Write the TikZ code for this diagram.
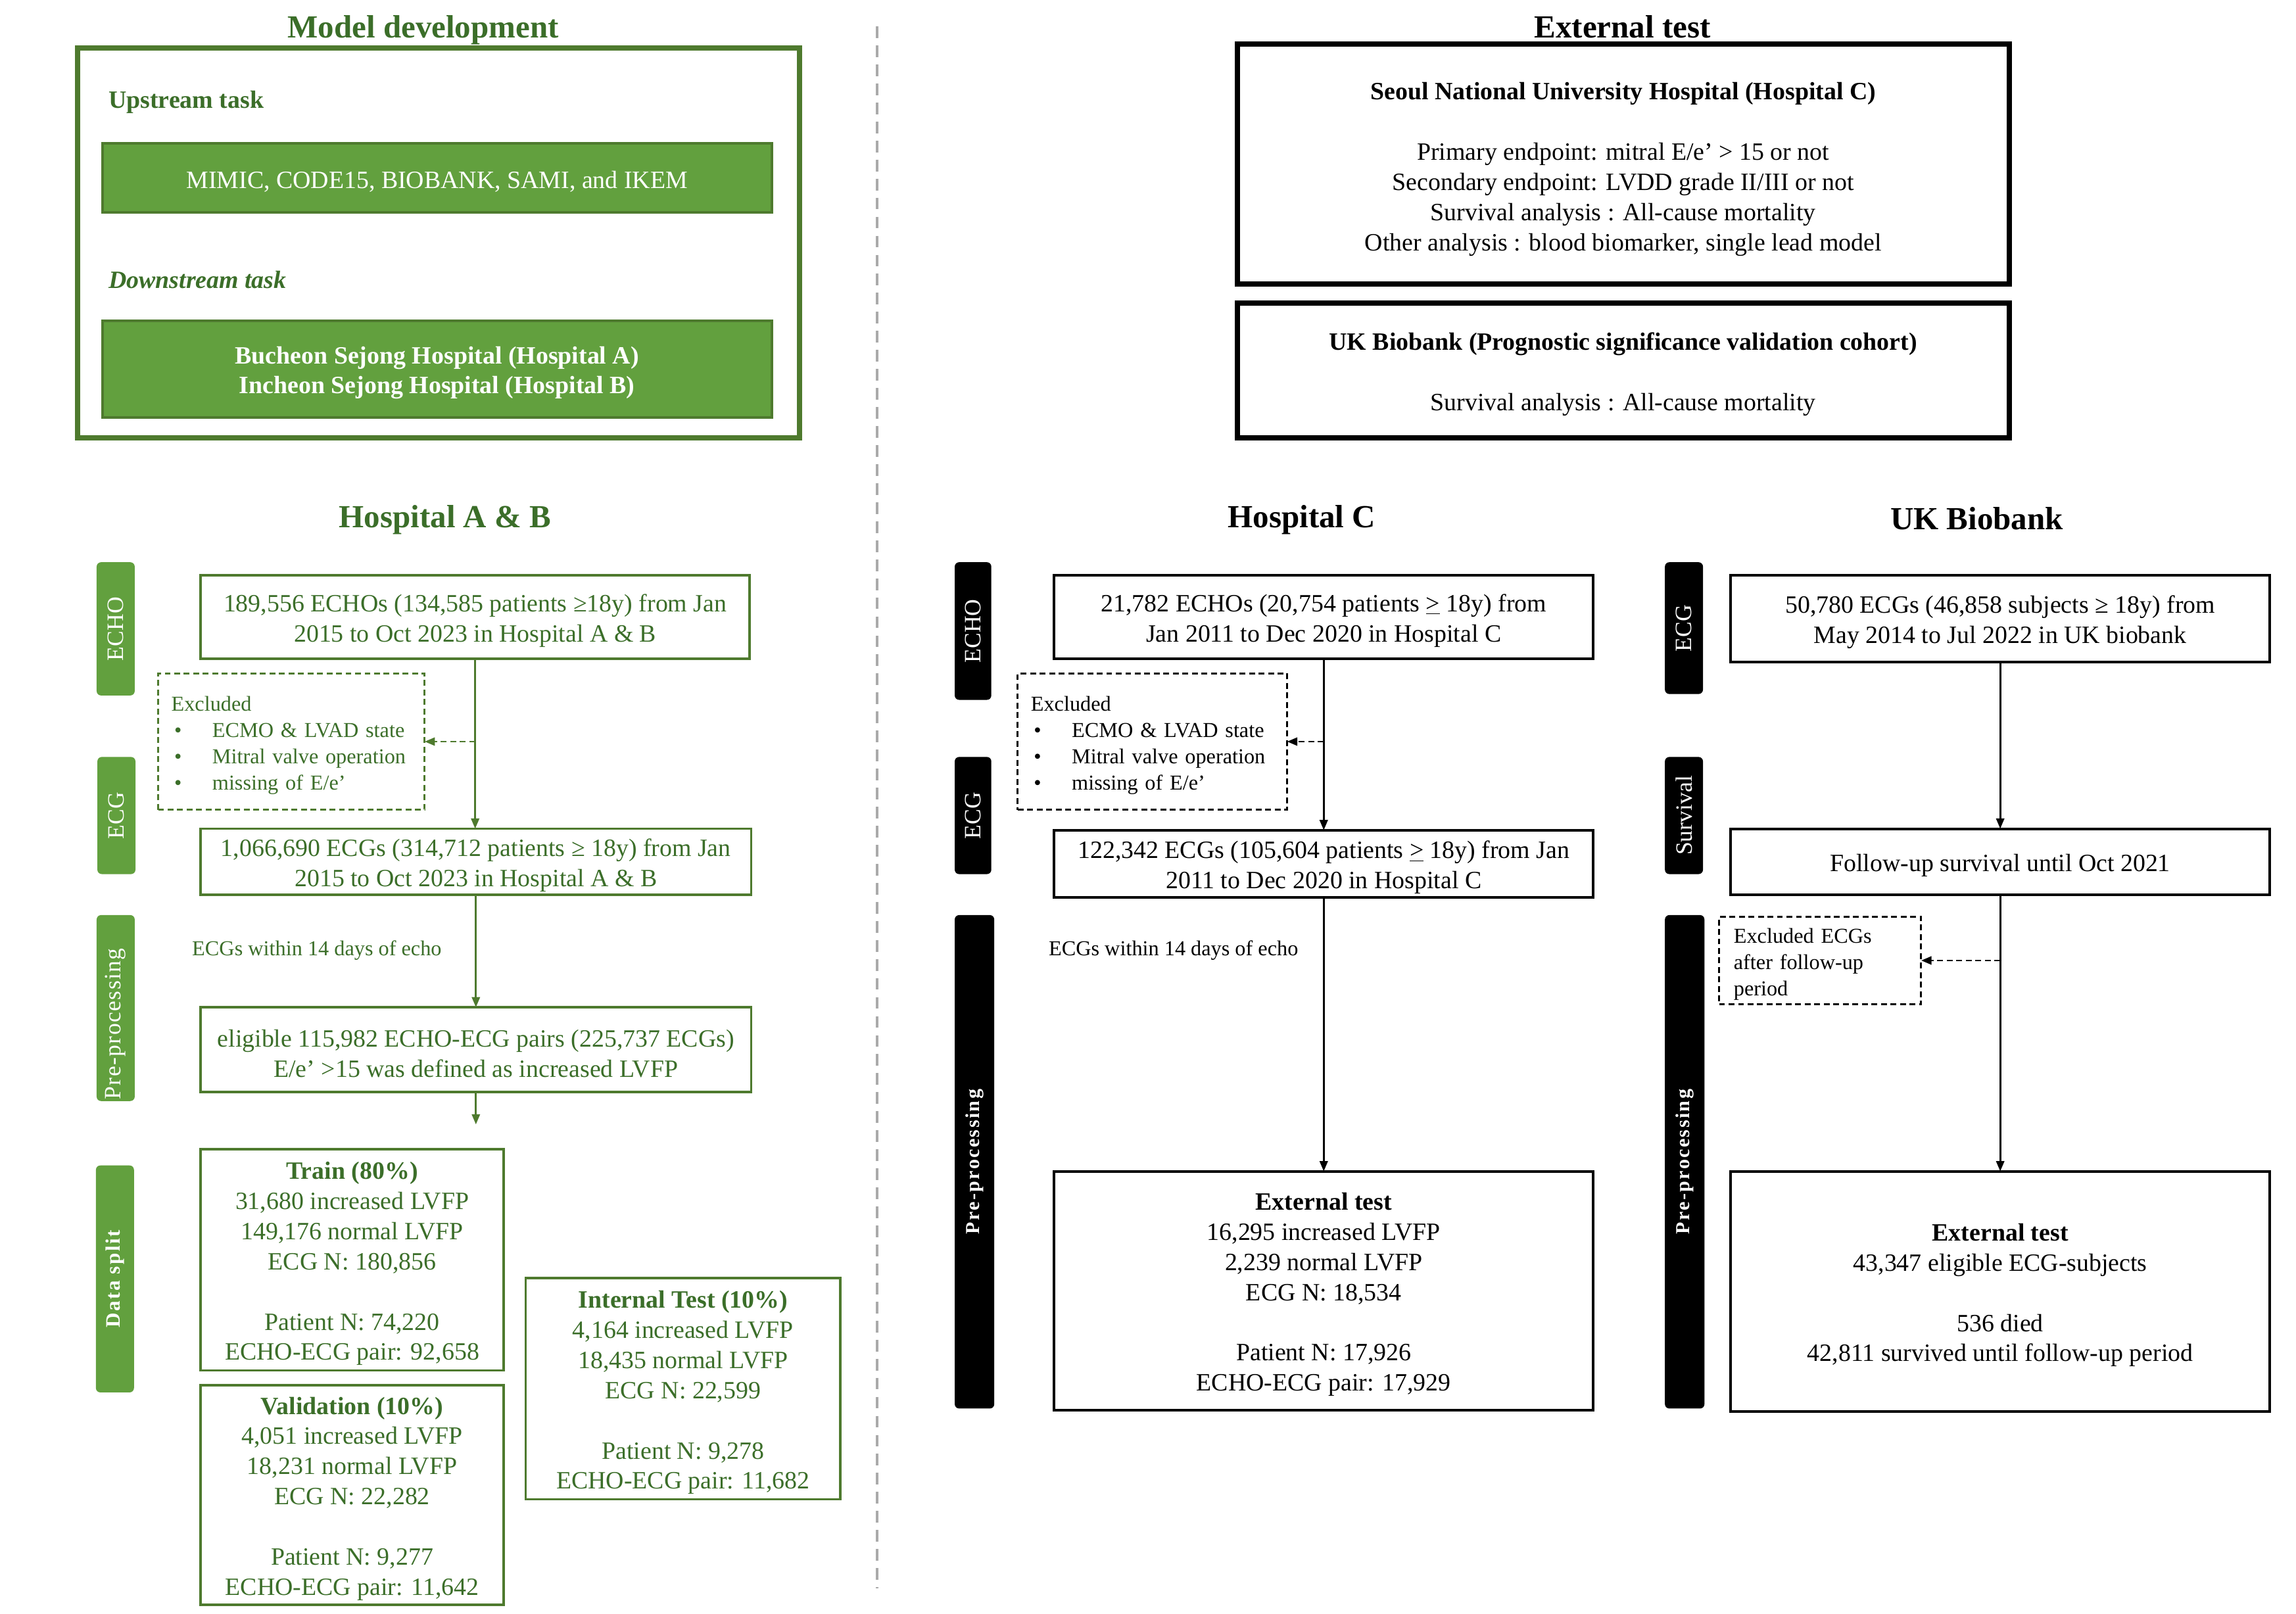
\documentclass[tikz,border=0pt]{standalone}
\usepackage{fontspec}
\setmainfont{Liberation Serif}
\newfontfamily\lsfont[LetterSpace=8]{Liberation Serif}
\newfontfamily\lsfontsm[LetterSpace=4]{Liberation Serif}
\usetikzlibrary{arrows.meta}
\definecolor{gfill}{HTML}{62A03E}
\definecolor{gline}{HTML}{4E7A2E}
\definecolor{gtext}{HTML}{3B6E29}
\definecolor{sepgray}{HTML}{AAAAAA}
\newcommand\tp{\rule{0pt}{17pt}}
\newcommand\tps{\rule{0pt}{15.5pt}}
\tikzset{
 base/.style={inner sep=0pt, outer sep=0pt, align=center, font=\fontsize{17}{20.6}\selectfont},
 gbox/.style={base, draw=gline, line width=1.7pt, text=gtext},
 gfbox/.style={base, draw=gline, fill=gfill, line width=1.7pt, text=white},
 bbox/.style={base, draw=black, line width=1.8pt, text=black},
 gouter/.style={base, draw=gline, line width=3.6pt},
 bouter/.style={base, draw=black, line width=3.6pt},
 dbox/.style={dash pattern=on 4pt off 2.5pt, line width=1.4pt, inner ysep=0pt, outer sep=0pt, align=left, font=\fontsize{14.5}{18}\selectfont},
 glab/.style={fill=gfill, rounded corners=3pt, text=white, rotate=90, inner sep=0pt, font=\fontsize{16}{16}\selectfont},
 blab/.style={fill=black, rounded corners=3pt, text=white, rotate=90, inner sep=0pt, font=\fontsize{16}{16}\selectfont},
 garrow/.style={draw=gline, line width=1.3pt, -{Triangle[length=7pt,width=5.5pt]}},
 barrow/.style={draw=black, line width=1.3pt, -{Triangle[length=7pt,width=5.5pt]}},
 dashedarrow/.style={dash pattern=on 4pt off 2.5pt},
 title/.style={font=\fontsize{22}{26}\selectfont\bfseries, inner sep=0pt},
 subtitle/.style={font=\fontsize{17}{20}\selectfont\bfseries, inner sep=0pt, anchor=west},
 small/.style={font=\fontsize{14.5}{18}\selectfont, inner sep=0pt, anchor=west},
}
\begin{document}
\begin{tikzpicture}[x=1pt,y=-1pt]
\useasboundingbox (0,0) rectangle (1568,1102);

% ---------------- Model development ----------------
\node[title, text=gtext] (tmd) at (289,20.5) {Model development};
\node[gouter, minimum width=493pt, minimum height=266pt] (md) at (299.5,166) {};
\node[subtitle, text=gtext] (up) at (74,70) {Upstream task};
\node[gfbox, minimum width=457pt, minimum height=47pt] (mimic) at (298.5,121.5) {\tp MIMIC, CODE15, BIOBANK, SAMI, and IKEM};
\node[subtitle, text=gtext, font=\fontsize{17}{20}\selectfont\bfseries\itshape] (down) at (74,191) {Downstream task};
\node[gfbox, minimum width=457pt, minimum height=66pt, font=\fontsize{17}{20.6}\selectfont\bfseries] (hab) at (298.5,252) {\tp Bucheon Sejong Hospital (Hospital A)\\Incheon Sejong Hospital (Hospital B)};

% separator
\coordinate (sepT) at (599,18);
\coordinate (sepB) at (599,1085);
\draw[sepgray, line width=1.5pt, dash pattern=on 8pt off 5pt] (sepT) -- (sepB);

% ---------------- External test ----------------
\node[title] (tet) at (1108,18.5) {External test};
\node[bouter, minimum width=527pt, minimum height=164pt] (snuh) at (1108.5,112) {\tp\rule{0pt}{19pt}\textbf{Seoul National University Hospital (Hospital C)}\\[20.6pt]Primary endpoint: mitral E/e’ > 15 or not\\Secondary endpoint: LVDD grade II/III or not\\Survival analysis : All-cause mortality\\Other analysis : blood biomarker, single lead model};
\node[bouter, minimum width=527pt, minimum height=92pt] (ukb) at (1108.5,253) {\tp\textbf{UK Biobank (Prognostic significance validation cohort)}\\[20.6pt]Survival analysis : All-cause mortality};

% ---------------- Hospital A & B ----------------
\node[title, text=gtext] (thab) at (304,355) {Hospital A \& B};
\node[glab, minimum width=91pt, minimum height=26pt] (lAecho) at (79,429.5) {ECHO};
\node[glab, minimum width=80pt, minimum height=26pt] (lAecg) at (79.5,557) {ECG};
\node[glab, minimum width=127pt, minimum height=26pt, text width=125pt, inner xsep=1pt, align=left, font=\fontsize{16}{16}\lsfontsm] (lApre) at (79,688.5) {Pre-processing};
\node[glab, minimum width=155pt, minimum height=26pt, font=\fontsize{14}{14}\lsfont\bfseries] (lAsplit) at (78.5,873.5) {Data split};

\node[gbox, minimum width=375pt, minimum height=57pt] (A1) at (324.5,421.5) {\tp 189,556 ECHOs (134,585 patients ≥18y) from Jan\\2015 to Oct 2023 in Hospital A \& B};
\node[dbox, draw=gline, text=gtext, inner xsep=9pt, text width=164pt, minimum height=93pt] (exA) at (199,506.5) {\tps Excluded\\\hspace*{2pt}\makebox[26pt][l]{\textbullet}ECMO \& LVAD state\\\hspace*{2pt}\makebox[26pt][l]{\textbullet}Mitral valve operation\\\hspace*{2pt}\makebox[26pt][l]{\textbullet}missing of E/e’};
\node[gbox, minimum width=376pt, minimum height=45pt] (A2) at (325,588.5) {\tp 1,066,690 ECGs (314,712 patients ≥ 18y) from Jan\\2015 to Oct 2023 in Hospital A \& B};
\node[small, text=gtext] (wA) at (131,649) {ECGs within 14 days of echo};
\node[gbox, minimum width=376pt, minimum height=58pt] (A3) at (325,717) {\tp eligible 115,982 ECHO-ECG pairs (225,737 ECGs)\\E/e’ >15 was defined as increased LVFP};
\coordinate (splitA) at (325,768);
\node[gbox, minimum width=207pt, minimum height=151pt] (train) at (240.5,860.5) {\tp\textbf{Train (80\%)}\\31,680 increased LVFP\\149,176 normal LVFP\\ECG N: 180,856\\[20.6pt]Patient N: 74,220\\ECHO-ECG pair: 92,658};
\node[gbox, minimum width=207pt, minimum height=150pt] (val) at (240.5,1021) {\tp\textbf{Validation (10\%)}\\4,051 increased LVFP\\18,231 normal LVFP\\ECG N: 22,282\\[20.6pt]Patient N: 9,277\\ECHO-ECG pair: 11,642};
\node[gbox, minimum width=215pt, minimum height=151pt] (itest) at (466.5,948.5) {\tp\textbf{Internal Test (10\%)}\\4,164 increased LVFP\\18,435 normal LVFP\\ECG N: 22,599\\[20.6pt]Patient N: 9,278\\ECHO-ECG pair: 11,682};

\draw[garrow] (A1.south) -- (A1.south |- A2.north);
\draw[garrow, dashedarrow] (A1.south |- exA.east) -- (exA.east);
\draw[garrow] (A2.south) -- (A3.north);
\draw[garrow] (A3.south) -- (splitA);

% ---------------- Hospital C ----------------
\node[title] (thc) at (889,355) {Hospital C};
\node[blab, minimum width=94pt, minimum height=25pt] (lCecho) at (664.5,431) {ECHO};
\node[blab, minimum width=80pt, minimum height=25pt] (lCecg) at (664.5,557) {ECG};
\node[blab, minimum width=337pt, minimum height=27pt, font=\fontsize{13.5}{13.5}\lsfont\bfseries] (lCpre) at (665.5,793.5) {Pre-processing};

\node[bbox, minimum width=368pt, minimum height=57pt] (C1) at (904,421.5) {\tp 21,782 ECHOs (20,754 patients \underline{>} 18y) from\\Jan 2011 to Dec 2020 in Hospital C};
\node[dbox, draw=black, inner xsep=9pt, text width=166pt, minimum height=93pt] (exC) at (787,506.5) {\tps Excluded\\\hspace*{2pt}\makebox[26pt][l]{\textbullet}ECMO \& LVAD state\\\hspace*{2pt}\makebox[26pt][l]{\textbullet}Mitral valve operation\\\hspace*{2pt}\makebox[26pt][l]{\textbullet}missing of E/e’};
\node[bbox, minimum width=368pt, minimum height=46pt] (C2) at (904,590) {\tp 122,342 ECGs (105,604 patients \underline{>} 18y) from Jan\\2011 to Dec 2020 in Hospital C};
\node[small] (wC) at (716,649) {ECGs within 14 days of echo};
\node[bbox, minimum width=368pt, minimum height=163pt] (C3) at (904,881.5) {\tp\textbf{External test}\\16,295 increased LVFP\\2,239 normal LVFP\\ECG N: 18,534\\[20.6pt]Patient N: 17,926\\ECHO-ECG pair: 17,929};

\draw[barrow] (C1.south) -- (C2.north);
\draw[barrow, dashedarrow] (C1.south |- exC.east) -- (exC.east);
\draw[barrow] (C2.south) -- (C3.north);

% ---------------- UK Biobank ----------------
\node[title] (tuk) at (1350,354) {UK Biobank};
\node[blab, minimum width=90pt, minimum height=26pt] (lUecg) at (1150,429) {ECG};
\node[blab, minimum width=80pt, minimum height=26pt] (lUsurv) at (1150,557) {Survival};
\node[blab, minimum width=337pt, minimum height=27pt, font=\fontsize{13.5}{13.5}\lsfont\bfseries] (lUpre) at (1150.5,793.5) {Pre-processing};

\node[bbox, minimum width=368pt, minimum height=59pt] (U1) at (1366,422.5) {\tp 50,780 ECGs (46,858 subjects ≥ 18y) from\\May 2014 to Jul 2022 in UK biobank};
\node[bbox, minimum width=368pt, minimum height=45pt] (U2) at (1366,588.5) {\tp Follow-up survival until Oct 2021};
\node[dbox, draw=black, inner xsep=10pt, text width=118pt, minimum height=60pt] (exU) at (1243,656) {\tps Excluded ECGs\\after follow-up\\period};
\node[bbox, minimum width=368pt, minimum height=164pt] (U3) at (1366,882) {\tp\textbf{External test}\\43,347 eligible ECG-subjects\\[20.6pt]536 died\\42,811 survived until follow-up period};

\draw[barrow] (U1.south) -- (U2.north);
\draw[barrow, dashedarrow] (U2.south |- exU.east) -- (exU.east);
\draw[barrow] (U2.south) -- (U3.north);
\end{tikzpicture}
\end{document}
